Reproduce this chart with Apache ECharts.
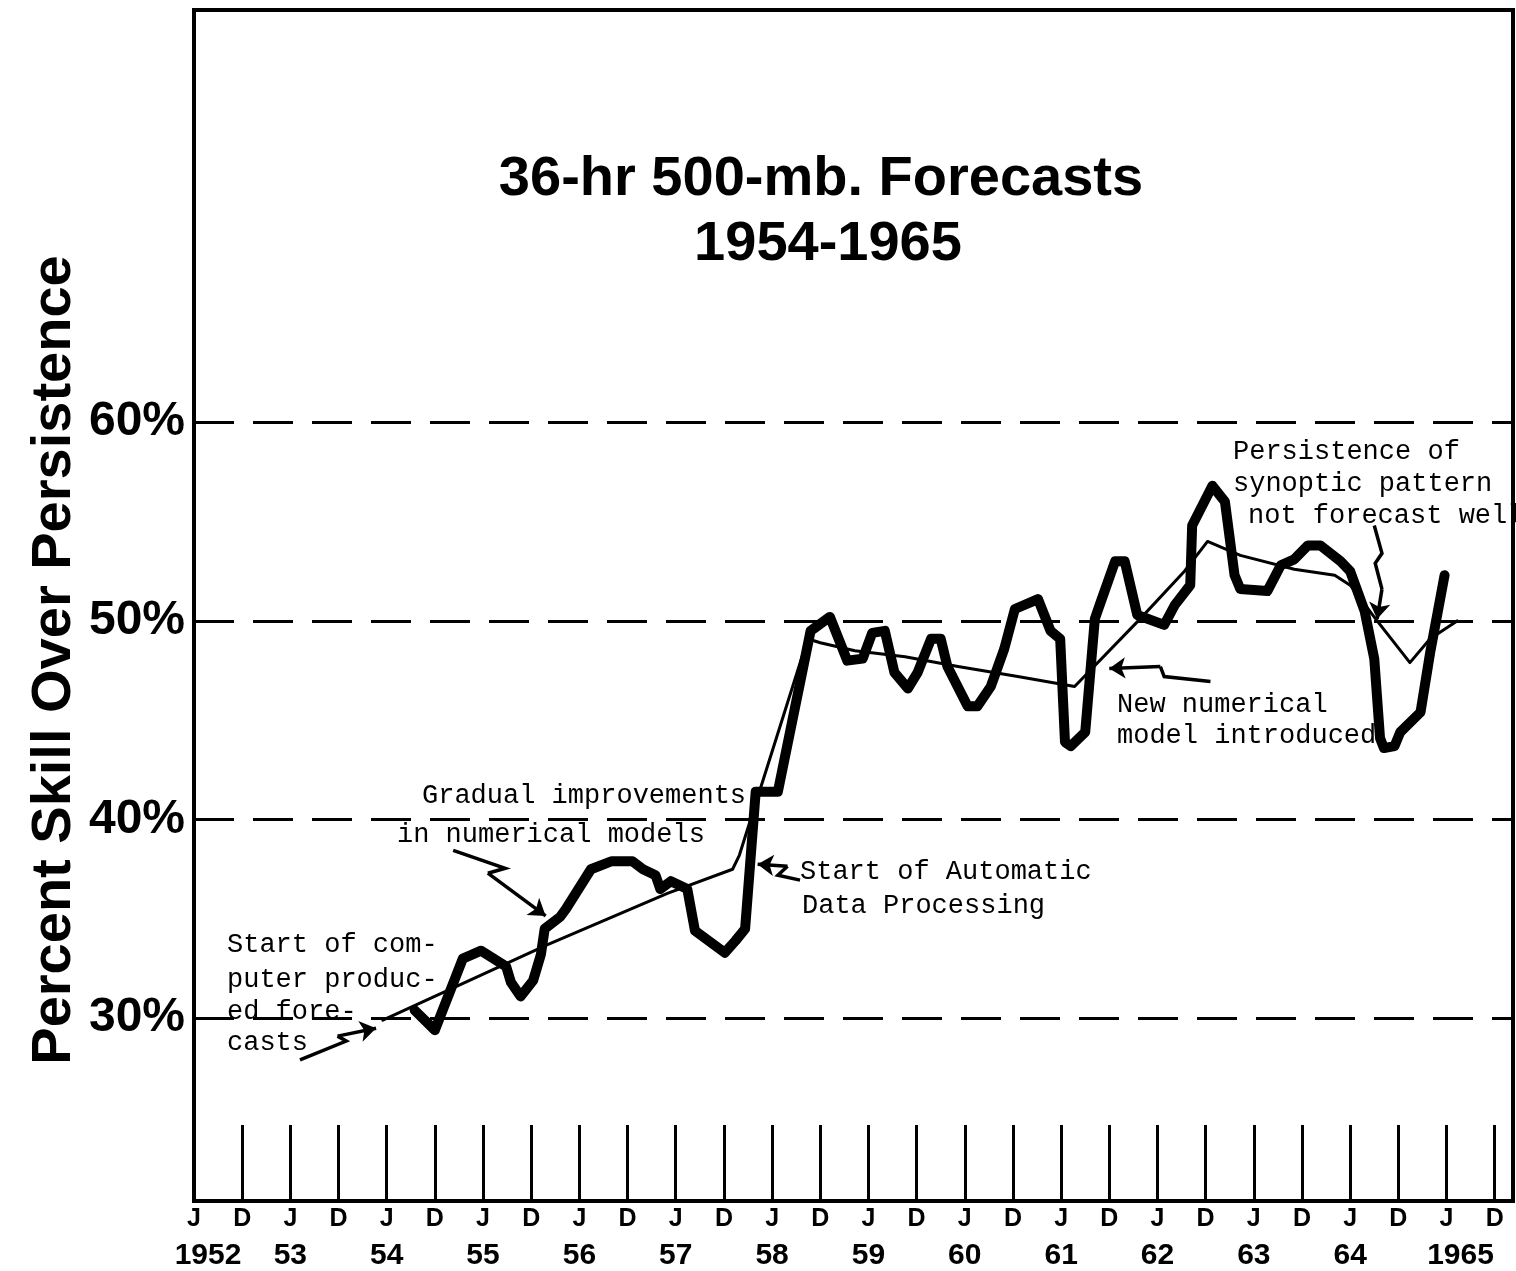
<!DOCTYPE html>
<html>
<head>
<meta charset="utf-8">
<script src="https://cdn.jsdelivr.net/npm/echarts@6/dist/echarts.min.js"></script>
<style>
html,body{margin:0;padding:0;background:#fff;}
#chart{width:1516px;height:1271px;}
</style>
</head>
<body>
<div id="chart"></div>
<script>
// ---- Data (decimal year, percent skill) ----
const skillYears = [1954.29,1954.50,1954.79,1954.98,1955.24,1955.29,1955.39,1955.52,1955.60,1955.64,1955.80,1955.86,1956.12,1956.33,1956.55,1956.66,1956.79,1956.84,1956.95,1957.12,1957.20,1957.51,1957.62,1957.72,1957.83,1958.06,1958.40,1958.60,1958.78,1958.94,1959.04,1959.17,1959.27,1959.41,1959.51,1959.65,1959.75,1959.82,1960.03,1960.13,1960.27,1960.41,1960.52,1960.76,1960.89,1960.99,1961.04,1961.10,1961.25,1961.35,1961.40,1961.56,1961.66,1961.79,1962.07,1962.18,1962.34,1962.36,1962.57,1962.70,1962.80,1962.86,1963.14,1963.28,1963.42,1963.56,1963.69,1963.90,1964.00,1964.15,1964.25,1964.31,1964.35,1964.46,1964.52,1964.73,1964.83,1964.98];
const skillValues = [30.4,29.4,33.0,33.4,32.6,31.8,31.1,31.9,33.2,34.5,35.1,35.5,37.5,37.9,37.9,37.5,37.2,36.5,36.9,36.5,34.4,33.3,33.9,34.5,41.4,41.4,49.5,50.2,48.0,48.1,49.4,49.5,47.4,46.6,47.4,49.1,49.1,47.7,45.7,45.7,46.7,48.6,50.6,51.1,49.5,49.1,43.9,43.7,44.4,50.1,50.8,53.0,53.0,50.3,49.8,50.8,51.8,54.8,56.8,56.0,52.3,51.6,51.5,52.8,53.1,53.8,53.8,53.0,52.5,50.5,48.1,44.1,43.6,43.7,44.4,45.4,48.4,52.3];

const trendYears = [1953.96,1955.67,1956.92,1957.59,1957.66,1958.37,1958.50,1958.86,1959.38,1959.93,1960.55,1961.14,1961.82,1962.28,1962.52,1962.86,1963.42,1963.84,1964.00,1964.28,1964.62,1964.83,1965.11];
const trendValues = [29.9,33.7,36.3,37.5,38.2,49.1,48.9,48.5,48.2,47.7,47.2,46.7,50.1,52.5,54.0,53.3,52.6,52.3,51.8,50.0,47.9,49.1,50.0];

const gridValues = [30, 40, 50, 60];
const monthLetters = ['J', 'D'];
const yearLabels = ['1952','53','54','55','56','57','58','59','60','61','62','63','64','1965'];

// annotation arrows (decimal year, percent)
const arrowComputer = [[1953.10,27.9],[1953.58,28.85],[1953.49,29.1],[1953.89,29.5]];
const arrowGradual  = [[1954.69,38.45],[1955.23,37.55],[1955.05,37.3],[1955.65,35.15]];
const arrowADP      = [[1958.29,36.95],[1958.06,37.2],[1958.16,37.65],[1957.85,37.75]];
const arrowNewModel = [[1962.55,46.95],[1962.07,47.2],[1962.03,47.7],[1961.50,47.6]];
const arrowPersist  = [[1964.25,54.8],[1964.33,53.4],[1964.26,52.9],[1964.33,51.6],[1964.28,50.1]];

const arrows = [arrowComputer, arrowGradual, arrowADP, arrowNewModel, arrowPersist];

function zip(a, b) { return a.map((x, i) => [x, b[i]]); }

const chart = echarts.init(document.getElementById('chart'), null, {renderer: 'canvas'});

const SANS = '"Liberation Sans", Arial, sans-serif';
const MONO = '"Liberation Mono", "DejaVu Sans Mono", monospace';

function monoText(x, y, text) {
  return {
    type: 'text', x: x, y: y, z: 50,
    style: { text: text, font: '27px ' + MONO, fill: '#000', verticalAlign: 'middle', align: 'left' }
  };
}

const X_MIN = 1952, X_MAX = 1965.69;

const option = {
  backgroundColor: '#fff',
  animation: false,
  grid: {
    left: 194, right: 1, top: 10, bottom: 69,
    show: true, borderColor: '#000', borderWidth: 4, backgroundColor: 'transparent'
  },
  xAxis: [
    {
      type: 'value', min: X_MIN, max: X_MAX, interval: 0.5, position: 'bottom',
      splitLine: { show: false },
      axisLine: { show: true, lineStyle: { color: '#000', width: 4 } },
      axisTick: {
        show: true, inside: true, length: 76,
        lineStyle: { color: '#000', width: 3 }
      },
      axisLabel: {
        show: true, margin: 6, showMinLabel: true, showMaxLabel: true, hideOverlap: false,
        fontFamily: SANS, fontWeight: 'bold', fontSize: 25, color: '#000',
        formatter: function (value) {
          const half = Math.round(value * 2) / 2;
          if (Math.abs(value - half) > 0.01) return '';
          const isJan = Math.abs(value - Math.round(value)) < 0.01;
          return isJan ? monthLetters[0] : monthLetters[1];
        }
      }
    },
    {
      type: 'value', min: X_MIN, max: X_MAX, interval: 1, position: 'bottom',
      splitLine: { show: false },
      axisLine: { show: false },
      axisTick: { show: false },
      axisLabel: {
        show: true, margin: 40, showMinLabel: true, showMaxLabel: true, hideOverlap: false,
        formatter: function (value) {
          if (Math.abs(value - Math.round(value)) > 0.01) return '';
          const yl = yearLabels[Math.round(value) - 1952];
          if (!yl) return '';
          return yl.length === 4 ? '{yw|' + yl + '}' : '{y|' + yl + '}';
        },
        rich: {
          y: { fontFamily: SANS, fontWeight: 'bold', fontSize: 30, color: '#000' },
          yw: { fontFamily: SANS, fontWeight: 'bold', fontSize: 30, color: '#000', padding: [0, 0, 0, 28] }
        }
      }
    }
  ],
  yAxis: {
    type: 'value', min: 20.8, max: 80.75,
    splitLine: { show: false },
    axisLine: { show: false },
    axisTick: { show: false },
    axisLabel: {
      show: true, margin: 9,
      customValues: gridValues,
      formatter: '{value}%',
      fontFamily: SANS, fontWeight: 'bold', fontSize: 48, color: '#000'
    }
  },
  graphic: [
    { type: 'text', x: 821, y: 180, z: 50,
      style: { text: '36-hr 500-mb. Forecasts', font: 'bold 56px ' + SANS, fill: '#000', align: 'center', verticalAlign: 'middle' } },
    { type: 'text', x: 828, y: 245, z: 50,
      style: { text: '1954-1965', font: 'bold 56px ' + SANS, fill: '#000', align: 'center', verticalAlign: 'middle' } },
    { type: 'text', x: 55, y: 660, rotation: Math.PI / 2, z: 50,
      style: { text: 'Percent Skill Over Persistence', font: 'bold 56px ' + SANS, fill: '#000', align: 'center', verticalAlign: 'middle' } },
    monoText(422, 796, 'Gradual improvements'),
    monoText(397, 835, 'in numerical models'),
    monoText(227, 945, 'Start of com-'),
    monoText(227, 980, 'puter produc-'),
    monoText(227, 1012, 'ed fore-'),
    monoText(227, 1043, 'casts'),
    monoText(800, 872, 'Start of Automatic'),
    monoText(802, 906, 'Data Processing'),
    monoText(1117, 705, 'New numerical'),
    monoText(1117, 736, 'model introduced'),
    monoText(1233, 452, 'Persistence of'),
    monoText(1233, 484, 'synoptic pattern'),
    monoText(1248, 516, 'not forecast well')
  ],
  series: [
    {
      name: 'grid lines', type: 'line', data: [], silent: true,
      markLine: {
        silent: true, symbol: ['none', 'none'], label: { show: false },
        lineStyle: { color: '#000', width: 3, type: [40, 19] },
        data: gridValues.map(v => ({ yAxis: v }))
      }
    },
    {
      name: 'Trend', type: 'line', data: zip(trendYears, trendValues),
      showSymbol: false, symbol: 'none', z: 3,
      lineStyle: { color: '#000', width: 3, join: 'round', cap: 'round' }
    },
    {
      name: 'Skill', type: 'line', data: zip(skillYears, skillValues),
      showSymbol: false, symbol: 'none', z: 4,
      lineStyle: { color: '#000', width: 10, join: 'round', cap: 'round' }
    },
    {
      name: 'arrow bodies', type: 'lines', coordinateSystem: 'cartesian2d', polyline: true, z: 5,
      lineStyle: { color: '#000', width: 3.5, opacity: 1 },
      data: arrows.map(a => ({ coords: a.slice(0, a.length - 1) }))
    },
    {
      name: 'arrow heads', type: 'lines', coordinateSystem: 'cartesian2d', z: 5,
      symbol: ['none', 'arrow'], symbolSize: 16,
      lineStyle: { color: '#000', width: 3.5, opacity: 1 },
      data: arrows.map(a => ({ coords: [a[a.length - 2], a[a.length - 1]] }))
    }
  ]
};

chart.setOption(option);
</script>
</body>
</html>
